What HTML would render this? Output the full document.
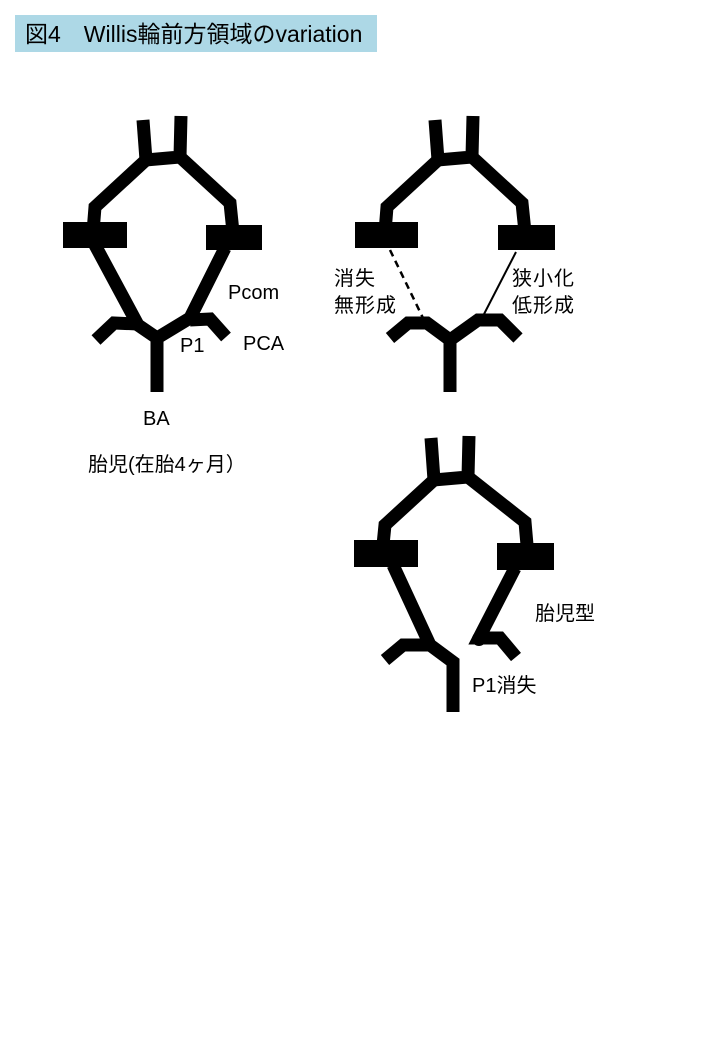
<!DOCTYPE html>
<html><head><meta charset="utf-8"><style>
body{margin:0;width:720px;height:1040px;background:#fff;overflow:hidden}
svg{position:absolute;left:0;top:0}
text{font-family:"Liberation Sans","Noto Sans CJK JP",sans-serif;fill:#000}
</style></head><body>
<svg width="720" height="1040" viewBox="0 0 720 1040">
<rect x="15" y="15" width="362" height="37" fill="#add8e6"/>
<text x="25" y="42" font-size="23">図4　Willis輪前方領域のvariation</text>
<g fill="none" stroke="#000" stroke-width="13" stroke-linejoin="miter">
<path d="M143 120 L146 160 L180 157 L181 116"/>
<path d="M146 160 L95 207 L93 232"/>
<path d="M180 157 L230 203 L233 232"/>
<path d="M95 245 L138 325 L157 338 L190 318 L225 248"/>
<path d="M157 338 L157 392"/>
<path d="M96 340 L114 323 L138 324"/>
<path d="M190 320 L210 319 L226 337"/>
<path d="M435 120 L438 160 L472 157 L473 116"/>
<path d="M438 160 L387 207 L385 232"/>
<path d="M472 157 L522 203 L525 232"/>
<path d="M390 338 L408 323 L427 323 L450 340 L478 320 L500 320 L518 338"/>
<path d="M450 340 L450 392"/>
<path d="M431 438 L434 480 L468 477 L469 436"/>
<path d="M434 480 L385 525 L383 545"/>
<path d="M468 477 L525 522 L527 545"/>
<path d="M393 565 L430 645 L453 662 L453 712"/>
<path d="M385 660 L403 645 L428 645"/>
<path d="M515 568 L479 638 L500 638 L516 657"/>
</g>
<circle cx="479" cy="639" r="7" fill="#000"/>
<g fill="#000">
<rect x="63" y="222" width="64" height="26"/>
<rect x="206" y="225" width="56" height="25"/>
<rect x="355" y="222" width="63" height="26"/>
<rect x="498" y="225" width="57" height="25"/>
<rect x="354" y="540" width="64" height="27"/>
<rect x="497" y="543" width="57" height="27"/>
</g>
<line x1="390" y1="250" x2="423" y2="318" stroke="#000" stroke-width="2.5" stroke-dasharray="7,5"/>
<line x1="516" y1="252" x2="482" y2="318" stroke="#000" stroke-width="2"/>
<g font-size="20">
<text x="228" y="299">Pcom</text>
<text x="243" y="350">PCA</text>
<text x="180" y="352">P1</text>
<text x="143" y="425">BA</text>
<text x="88" y="471">胎児(在胎4ヶ月）</text>
<text x="334" y="285" letter-spacing="1">消失</text>
<text x="334" y="312" letter-spacing="1">無形成</text>
<text x="512" y="285" letter-spacing="1">狭小化</text>
<text x="512" y="312" letter-spacing="1">低形成</text>
<text x="535" y="620">胎児型</text>
<text x="472" y="692">P1消失</text>
</g>
</svg>
</body></html>
